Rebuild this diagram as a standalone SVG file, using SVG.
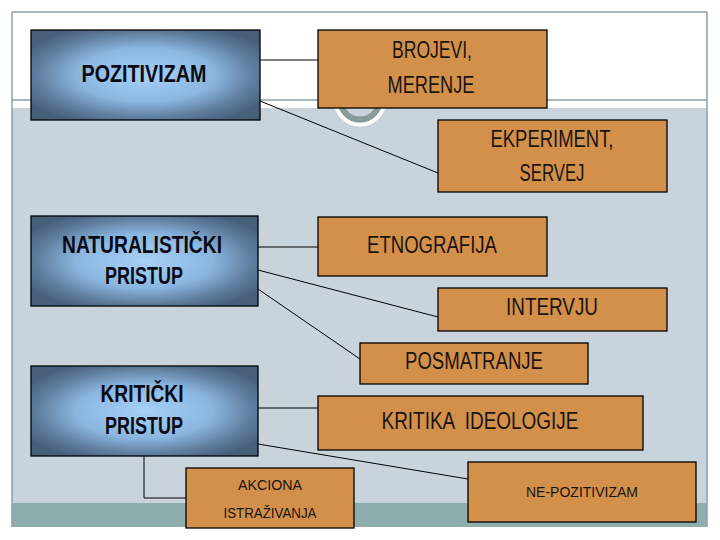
<svg xmlns="http://www.w3.org/2000/svg" width="720" height="540" viewBox="0 0 720 540">
<defs>
<radialGradient id="dg" cx="0.5" cy="0.5" r="0.6">
<stop offset="0" stop-color="#a6d0f8"/>
<stop offset="0.5" stop-color="#8ab6e0"/>
<stop offset="0.8" stop-color="#5e7c9c"/>
<stop offset="1" stop-color="#485f7a"/>
</radialGradient>
<style>
.dark{fill:url(#dg);stroke:#000;stroke-width:1.3}
.org{fill:#d3904a;stroke:#000;stroke-width:1.3}
.t{font-family:"Liberation Sans",Arial,sans-serif;font-size:23px;fill:#1a1410;text-anchor:middle;white-space:pre}
.b{font-weight:bold;fill:#0a0a14}
.s{font-size:15px}
.c{fill:none;stroke:#000;stroke-width:1}
</style>
</defs>
<rect x="0" y="0" width="720" height="540" fill="#fff"/>
<rect x="12" y="108" width="695" height="395" fill="#c9d3db"/>
<rect x="12" y="503" width="695" height="24" fill="#8eaeae"/>
<line x1="12" y1="100" x2="707" y2="100" stroke="#8e9ea2" stroke-width="1.5"/>
<path d="M12 12 H707 V527 M12 12 V527" fill="none" stroke="#8e9ea2" stroke-width="1.5"/>
<circle cx="360" cy="100" r="24.5" fill="none" stroke="#fff" stroke-width="4"/>
<circle cx="360" cy="100" r="19.5" fill="none" stroke="#889a9c" stroke-width="6"/>
<g id="connectors">
<line class="c" x1="260" y1="60" x2="318" y2="60"/>
<line class="c" x1="260" y1="101" x2="438" y2="173"/>
<line class="c" x1="258" y1="247" x2="318" y2="247"/>
<line class="c" x1="258" y1="270" x2="438" y2="317"/>
<line class="c" x1="258" y1="289" x2="360" y2="359"/>
<line class="c" x1="258" y1="408" x2="318" y2="408"/>
<line class="c" x1="258" y1="444" x2="468" y2="479"/>
<polyline class="c" points="144,456 144,498 186,498"/>
</g>
<g id="pozitivizam">
<rect class="dark" x="31" y="30" width="229" height="90"/>
<text class="t b" x="144" y="82" textLength="125" lengthAdjust="spacingAndGlyphs">POZITIVIZAM</text>
</g>
<g id="brojevi">
<rect class="org" x="318" y="30" width="229" height="78"/>
<text class="t" x="432" y="58" textLength="80" lengthAdjust="spacingAndGlyphs">BROJEVI,</text>
<text class="t" x="431" y="93" textLength="87" lengthAdjust="spacingAndGlyphs">MERENJE</text>
</g>
<g id="ekperiment">
<rect class="org" x="438" y="120" width="229" height="72"/>
<text class="t" x="552" y="147" textLength="123" lengthAdjust="spacingAndGlyphs">EKPERIMENT,</text>
<text class="t" x="552" y="181" textLength="65" lengthAdjust="spacingAndGlyphs">SERVEJ</text>
</g>
<g id="naturalisticki">
<rect class="dark" x="31" y="216" width="227" height="90"/>
<text class="t b" x="142" y="253" textLength="160" lengthAdjust="spacingAndGlyphs">NATURALISTIČKI</text>
<text class="t b" x="144" y="284" textLength="78" lengthAdjust="spacingAndGlyphs">PRISTUP</text>
</g>
<g id="etnografija">
<rect class="org" x="318" y="217" width="229" height="59"/>
<text class="t" x="432" y="253" textLength="130" lengthAdjust="spacingAndGlyphs">ETNOGRAFIJA</text>
</g>
<g id="intervju">
<rect class="org" x="438" y="288" width="229" height="43"/>
<text class="t" x="552" y="315" textLength="92" lengthAdjust="spacingAndGlyphs">INTERVJU</text>
</g>
<g id="posmatranje">
<rect class="org" x="360" y="343" width="228" height="41"/>
<text class="t" x="474" y="369" textLength="138" lengthAdjust="spacingAndGlyphs">POSMATRANJE</text>
</g>
<g id="kriticki">
<rect class="dark" x="31" y="366" width="227" height="90"/>
<text class="t b" x="142" y="402" textLength="83" lengthAdjust="spacingAndGlyphs">KRITIČKI</text>
<text class="t b" x="144" y="434" textLength="78" lengthAdjust="spacingAndGlyphs">PRISTUP</text>
</g>
<g id="kritika">
<rect class="org" x="318" y="396" width="325" height="54"/>
<text class="t" x="480" y="429" textLength="197" lengthAdjust="spacingAndGlyphs">KRITIKA  IDEOLOGIJE</text>
</g>
<g id="akciona">
<rect class="org" x="186" y="468" width="168" height="60"/>
<text class="t s" x="270" y="490" textLength="64" lengthAdjust="spacingAndGlyphs">AKCIONA</text>
<text class="t s" x="270" y="518" textLength="93" lengthAdjust="spacingAndGlyphs">ISTRAŽIVANJA</text>
</g>
<g id="nepozitivizam">
<rect class="org" x="468" y="462" width="228" height="60"/>
<text class="t s" x="582" y="497" textLength="112" lengthAdjust="spacingAndGlyphs">NE-POZITIVIZAM</text>
</g>
</svg>
